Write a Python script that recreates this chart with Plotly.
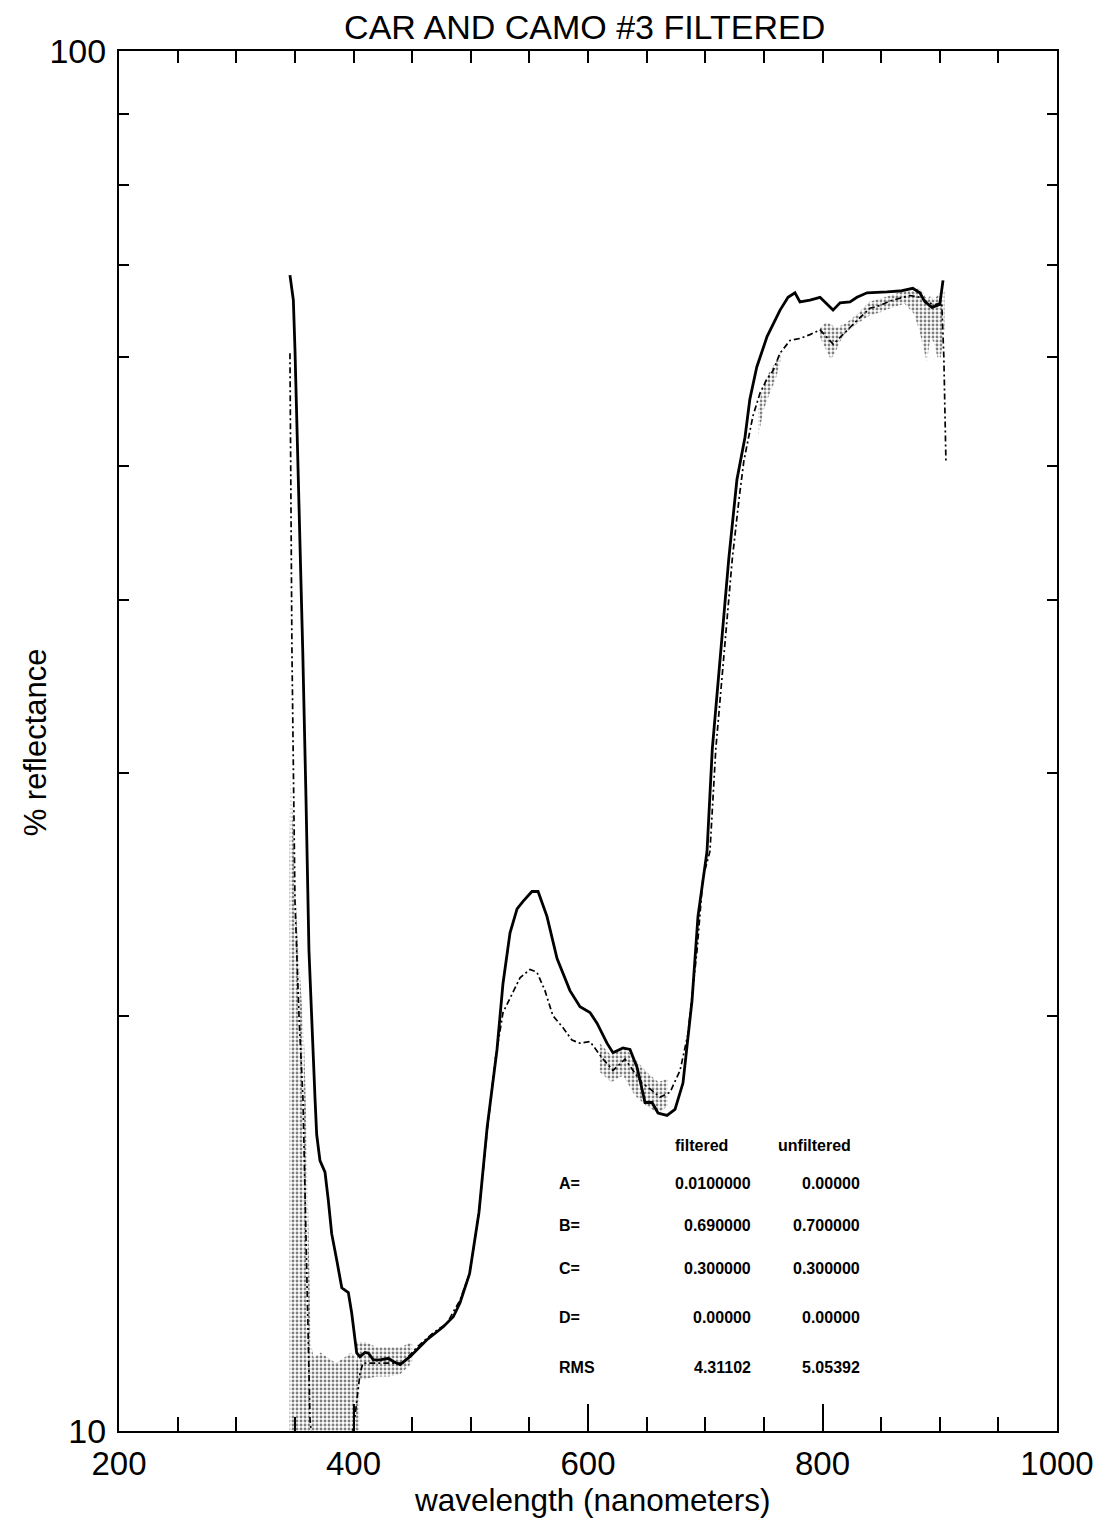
import plotly.graph_objects as go

# ---------------- data ----------------
filt_wl = [345.8, 348.7, 350.1, 351.6, 352.9, 354.4, 355.8, 356.7, 359.5, 362.0, 367.2, 368.6,
           371.4, 375.7, 378.5, 381.4, 385.7, 390.0, 392.7, 395.6, 398.5, 402.7, 405.5, 409.8,
           412.6, 416.9, 422.6, 429.7, 434.0, 439.7, 448.2, 462.4, 476.6, 485.1, 490.8, 499.0,
           507.0, 514.0, 522.4, 527.5, 533.5, 539.5, 544.6, 552.2, 557.4, 565.0, 573.6, 584.6,
           593.2, 601.7, 607.7, 616.2, 621.3, 629.8, 635.8, 641.8, 646.0, 648.6, 654.6, 659.7,
           667.4, 674.2, 681.0, 688.7, 693.8, 701.5, 706.0, 713.0, 720.0, 727.0, 733.9, 738.0,
           743.9, 752.7, 757.8, 763.8, 770.6, 776.5, 780.8, 789.3, 797.9, 803.8, 809.0, 815.0,
           823.5, 829.4, 838.0, 855.0, 866.0, 877.0, 883.0, 887.4, 893.4, 900.0, 902.8]
filt_val = [68.8, 66.0, 60.7, 54.4, 48.6, 43.5, 38.9, 36.8, 28.7, 22.3, 17.4, 16.4,
            15.7, 15.4, 14.7, 13.9, 13.3, 12.7, 12.65, 12.6, 12.17, 11.39, 11.32, 11.4,
            11.39, 11.26, 11.26, 11.29, 11.23, 11.17, 11.32, 11.64, 11.9, 12.1, 12.38, 13.0,
            14.4, 16.6, 18.9, 21.1, 22.96, 23.9, 24.2, 24.6, 24.6, 23.6, 22.0, 20.85,
            20.3, 20.1, 19.75, 19.1, 18.8, 18.95, 18.9, 18.35, 17.7, 17.3, 17.3, 17.0,
            16.93, 17.1, 17.87, 20.5, 23.6, 26.3, 31.2, 36.8, 42.8, 48.9, 52.5, 55.9,
            59.0, 62.1, 63.3, 64.9, 66.3, 66.8, 65.8, 66.0, 66.3, 65.5, 64.9, 65.7,
            65.8, 66.3, 66.8, 66.9, 67.0, 67.3, 66.8, 65.8, 65.2, 65.5, 68.2]

unf_wl = [345.8, 347.5, 350.1, 353.5, 356.9, 359.5, 362.9, 366.0, 375.0, 385.0, 395.0, 401.0,
          405.5, 408.0, 420.0, 433.7, 442.0, 454.0, 468.0, 479.7, 490.8, 499.0, 507.0, 514.0,
          521.0, 527.5, 533.5, 542.0, 550.5, 556.5, 563.3, 570.0, 578.7, 586.3, 593.0, 601.7,
          612.8, 621.3, 631.6, 638.4, 646.0, 652.9, 661.4, 670.0, 678.5, 685.3, 693.0, 698.1,
          704.0, 709.0, 716.0, 723.0, 729.0, 733.0, 740.7, 746.7, 752.4, 758.0, 763.8, 772.3,
          780.8, 789.3, 797.9, 803.6, 809.2, 814.9, 823.5, 832.0, 840.5, 849.0, 857.6, 866.0,
          874.6, 883.2, 890.3, 896.0, 901.7, 903.5, 905.3]
unf_val = [60.4, 36.8, 24.2, 20.0, 17.4, 13.5, 10.2, 9.6, 9.4, 9.5, 9.6, 10.2,
           11.0, 11.2, 11.2, 11.2, 11.2, 11.5, 11.78, 11.97, 12.44, 13.0, 14.4, 16.5,
           18.6, 20.1, 20.6, 21.3, 21.6, 21.5, 20.85, 20.0, 19.6, 19.2, 19.1, 19.15,
           18.6, 18.25, 18.6, 18.25, 17.87, 17.7, 17.45, 17.6, 18.25, 19.4, 22.3, 25.2,
           26.3, 31.2, 36.8, 42.8, 47.5, 50.5, 54.4, 56.5, 57.8, 58.7, 60.4, 61.7,
           61.9, 62.3, 62.8, 62.0, 61.3, 62.0, 63.1, 64.1, 65.1, 65.4, 65.9, 66.2,
           66.5, 66.3, 65.7, 65.5, 65.7, 60.0, 50.3]

# noise scatter envelopes of the unfiltered spectrum (upper / lower)
noise_uv_wl = [345.5, 346.0, 348.0, 350.0, 352.0, 355.0, 358.0, 360.0, 362.0, 363.5, 366.0,
               372.0, 378.0, 385.0, 392.0, 398.0, 402.0, 405.0]
noise_uv_hi = [26.0, 30.0, 28.0, 25.0, 23.0, 21.0, 19.0, 16.5, 13.5, 11.6, 11.3,
               11.4, 11.3, 11.2, 11.3, 11.4, 11.3, 11.1]
noise_uv_lo = [9.5] * 18

noise_vis_wl = [403.0, 410.0, 420.0, 430.0, 440.0, 450.0]
noise_vis_hi = [11.6, 11.6, 11.5, 11.5, 11.5, 11.6]
noise_vis_lo = [10.9, 10.9, 10.95, 10.95, 11.0, 11.2]

noise_red_wl = [610.0, 620.0, 630.0, 640.0, 650.0, 660.0, 668.0]
noise_red_hi = [19.1, 18.7, 19.0, 18.6, 18.2, 17.9, 18.0]
noise_red_lo = [18.2, 17.9, 18.1, 17.5, 17.2, 17.0, 17.2]

noise_nir_wl = [745.0, 750.0, 755.0, 760.0, 764.0]
noise_nir_hi = [55.0, 57.5, 58.6, 59.5, 60.6]
noise_nir_lo = [52.5, 55.0, 56.5, 57.8, 59.5]

noise_ir_wl = [798.0, 803.0, 807.0, 811.0, 815.0, 820.0, 830.0, 840.0, 850.0, 860.0, 870.0,
               878.0, 882.0, 886.0, 889.0, 892.0, 895.0, 898.0, 901.0, 904.0]
noise_ir_hi = [63.0, 63.6, 63.4, 63.0, 63.2, 63.5, 64.5, 65.8, 66.2, 66.6, 67.0,
               67.0, 67.3, 66.8, 66.0, 66.5, 66.0, 66.5, 67.0, 67.0]
noise_ir_lo = [62.0, 60.8, 59.8, 60.5, 61.6, 62.5, 63.5, 64.3, 64.7, 65.2, 65.6,
               64.5, 63.0, 61.0, 59.5, 62.0, 61.5, 60.0, 60.0, 63.0]

x_major = [200, 400, 600, 800, 1000]
x_minor = [250, 300, 350, 450, 500, 550, 650, 700, 750, 850, 900, 950]
x_top = [250, 300, 350, 400, 450, 500, 550, 600, 650, 700, 750, 800, 850, 900, 950]
y_major = [10, 100]
y_minor = [20, 30, 40, 50, 60, 70, 80, 90]

table_rows = ["A=", "B=", "C=", "D=", "RMS"]
table_filtered = ["0.0100000", "0.690000", "0.300000", "0.00000", "4.31102"]
table_unfiltered = ["0.00000", "0.700000", "0.300000", "0.00000", "5.05392"]

# ---------------- figure ----------------
FONT = "Liberation Sans, Arial, Helvetica, sans-serif"
fig = go.Figure()

pattern = dict(shape=".", size=4, solidity=0.4, fgcolor="black", bgcolor="rgba(0,0,0,0)")
for wl, hi, lo in [(noise_uv_wl, noise_uv_hi, noise_uv_lo),
                   (noise_vis_wl, noise_vis_hi, noise_vis_lo),
                   (noise_red_wl, noise_red_hi, noise_red_lo),
                   (noise_nir_wl, noise_nir_hi, noise_nir_lo),
                   (noise_ir_wl, noise_ir_hi, noise_ir_lo)]:
    fig.add_trace(go.Scatter(x=wl, y=lo, mode="lines", line=dict(width=0, color="rgba(0,0,0,0)"),
                             showlegend=False, hoverinfo="skip"))
    fig.add_trace(go.Scatter(x=wl, y=hi, mode="lines", line=dict(width=0, color="rgba(0,0,0,0)"),
                             fill="tonexty", fillcolor="rgba(0,0,0,0)", fillpattern=pattern,
                             showlegend=False, hoverinfo="skip"))

fig.add_trace(go.Scatter(x=unf_wl, y=unf_val, mode="lines", name="unfiltered",
                         line=dict(color="black", width=1.7, dash="6px,3px,2px,3px"),
                         showlegend=False))
fig.add_trace(go.Scatter(x=filt_wl, y=filt_val, mode="lines", name="filtered",
                         line=dict(color="black", width=2.8), showlegend=False))
# invisible trace to carry the top axis
fig.add_trace(go.Scatter(x=[200, 1000], y=[50, 50], xaxis="x2", mode="markers",
                         marker=dict(opacity=0), showlegend=False, hoverinfo="skip"))

fig.update_layout(
    width=1109, height=1518,
    margin=dict(l=111, r=60, t=43, b=95, autoexpand=False),
    paper_bgcolor="white", plot_bgcolor="white",
    font=dict(family=FONT, color="black"),
    title=dict(text="CAR AND CAMO #3 FILTERED", x=0.520, xanchor="center", y=0.9872, yanchor="middle",
               font=dict(size=34, family=FONT)),
    xaxis=dict(range=[200, 1000], tickvals=x_major, ticktext=[str(v) for v in x_major],
               ticks="inside", ticklen=27, tickwidth=2, tickcolor="black",
               minor=dict(tickvals=x_minor, ticks="inside", ticklen=14, tickwidth=2, tickcolor="black"),
               showline=True, linewidth=2, linecolor="black", mirror=True,
               showgrid=False, zeroline=False, tickfont=dict(size=33), ticklabelstandoff=2),
    xaxis2=dict(overlaying="x", side="top", matches="x", range=[200, 1000], tickvals=x_top,
                ticks="inside", ticklen=12, tickwidth=2, tickcolor="black",
                showticklabels=False, showgrid=False, zeroline=False, showline=False),
    yaxis=dict(type="log", range=[1, 2], tickvals=y_major, ticktext=["10", "100"],
               ticks="inside", ticklen=10, tickwidth=2, tickcolor="black",
               minor=dict(tickvals=y_minor, ticks="inside", ticklen=10, tickwidth=2, tickcolor="black"),
               showline=True, linewidth=2, linecolor="black", mirror="ticks",
               showgrid=False, zeroline=False, tickfont=dict(size=34), ticklabelstandoff=4),
)

# axis titles
fig.add_annotation(x=0.504, y=-0.050, xref="paper", yref="paper", text="wavelength (nanometers)",
                   showarrow=False, xanchor="center", yanchor="middle", font=dict(size=31.5))
fig.add_annotation(x=-0.0896, y=0.499, xref="paper", yref="paper", text="% reflectance",
                   showarrow=False, xanchor="center", yanchor="middle", textangle=-90,
                   font=dict(size=31))

# table text
row_y = [1.1797, 1.1486, 1.1181, 1.0826, 1.0457]
tfont = dict(size=16, family=FONT, color="black", weight="bold")
fig.add_annotation(x=697.0, y=1.2072, xref="x", yref="y", text="filtered", showarrow=False,
                   xanchor="center", yanchor="middle", font=tfont)
fig.add_annotation(x=793.5, y=1.2072, xref="x", yref="y", text="unfiltered", showarrow=False,
                   xanchor="center", yanchor="middle", font=tfont)
for lab, fv, uv, yy in zip(table_rows, table_filtered, table_unfiltered, row_y):
    fig.add_annotation(x=573.6, y=yy, xref="x", yref="y", text=lab, showarrow=False,
                       xanchor="left", yanchor="middle", font=tfont)
    fig.add_annotation(x=740.5, y=yy, xref="x", yref="y", text=fv, showarrow=False,
                       xanchor="right", yanchor="middle", font=tfont)
    fig.add_annotation(x=833.5, y=yy, xref="x", yref="y", text=uv, showarrow=False,
                       xanchor="right", yanchor="middle", font=tfont)

fig.write_html("out.html")
